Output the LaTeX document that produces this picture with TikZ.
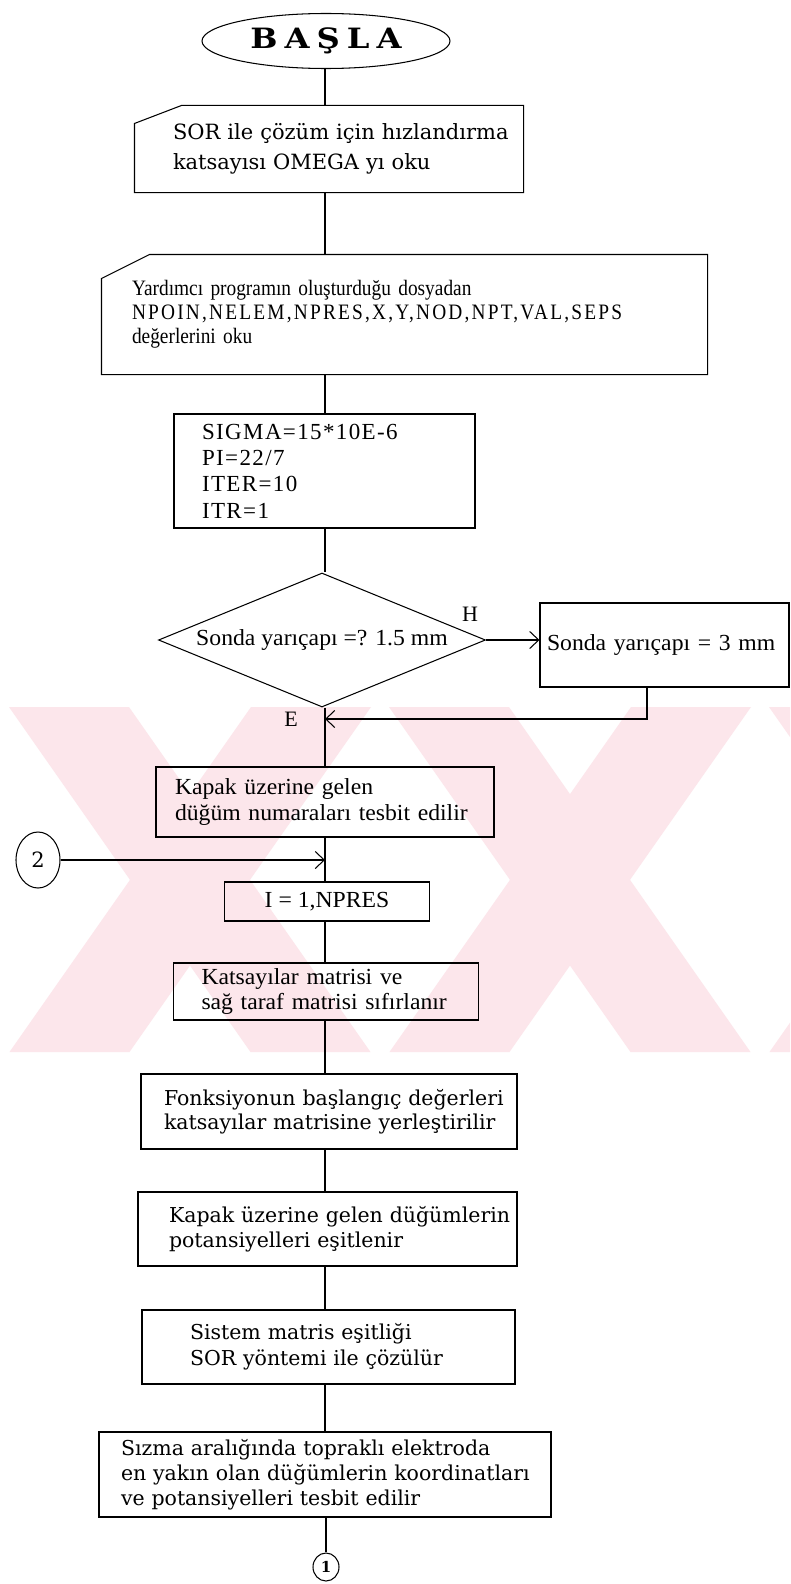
\documentclass[tikz,border=0pt]{standalone}
\usepackage{fontspec}
\setmainfont{Liberation Serif}
\newfontfamily\tms[FakeStretch=1.03]{Liberation Serif}
\newfontfamily\tmsc[FakeStretch=0.88]{Liberation Serif}
\newfontfamily\tmsn{Liberation Serif}
\newfontfamily\dvs{DejaVu Serif}
\newfontfamily\dvw[FakeStretch=1.15]{DejaVu Serif}
\usetikzlibrary{shapes.geometric,arrows.meta}
\definecolor{wmpink}{RGB}{252,230,235}
\newcommand\Lx[1]{\mbox{#1}}
\begin{document}
\begin{tikzpicture}[x=1pt,y=-1pt,line width=1.05pt,
  tbox/.style={draw,rectangle,align=left,inner ysep=0pt,font=\tms\fontsize{23}{25.5}\selectfont},
  dbox/.style={draw,rectangle,align=left,inner ysep=0pt,font=\dvs\fontsize{20.5}{24.5}\selectfont},
  inbox/.style={rectangle,align=left,inner ysep=0pt},
  arr/.style={-{Straight Barb[length=9pt,width=17pt,line width=1.05pt]}},
  lbl/.style={inner sep=0pt,font=\tmsn\fontsize{22}{22}\selectfont},
  conn/.style={draw,ellipse,inner sep=0pt},
  wm/.style={fill=wmpink,draw=none}]
\useasboundingbox (0,0) rectangle (790,1584);
\fill[white] (0,0) rectangle (790,1584);

% faint background watermark
\begin{scope}
\clip (0,707) rectangle (790,1052);
\fill[wm] (9,707) -- (129,707) -- (370.5,1052) -- (250.5,1052) -- cycle;
\fill[wm] (251,707) -- (371,707) -- (129.5,1052) -- (9.5,1052) -- cycle;
\fill[wm] (389,707) -- (509,707) -- (750.5,1052) -- (630.5,1052) -- cycle;
\fill[wm] (631,707) -- (751,707) -- (509.5,1052) -- (389.5,1052) -- cycle;
\fill[wm] (769,707) -- (889,707) -- (1130.5,1052) -- (1010.5,1052) -- cycle;
\fill[wm] (1011,707) -- (1131,707) -- (889.5,1052) -- (769.5,1052) -- cycle;
\end{scope}

\coordinate (ax) at (325,0);

% start
\node[draw,ellipse,minimum width=248pt,minimum height=55pt,inner sep=0pt,
      font=\dvw\bfseries\fontsize{28}{28}\selectfont] (start) at (326,41)
      {B\kern7pt A\kern7pt Ş\kern7pt L\kern7pt A};

% manual input 1
\node[inbox,inner xsep=38pt,text width=312pt,minimum height=86pt,
      font=\dvs\fontsize{21}{30}\selectfont] (b1) at (329,149)
      {\Lx{SOR ile çözüm için hızlandırma}\\\Lx{katsayısı OMEGA yı oku}};
\draw ([yshift=-18pt]b1.north west) -- ([xshift=47pt]b1.north west) -- (b1.north east)
      -- (b1.south east) -- (b1.south west) -- cycle;

% manual input 2
\node[inbox,inner xsep=30pt,text width=545pt,minimum height=119pt,
      font=\tmsc\fontsize{22}{23.8}\selectfont] (b2) at (404.5,314.5)
      {\Lx{Yardımcı programın oluşturduğu dosyadan}\\
       \Lx{\addfontfeature{LetterSpace=10}NPOIN,NELEM,NPRES,X,Y,NOD,NPT,VAL,SEPS}\\
       \Lx{değerlerini oku}};
\draw ([yshift=-24pt]b2.north west) -- ([xshift=48pt]b2.north west) -- (b2.north east)
      -- (b2.south east) -- (b2.south west) -- cycle;

% constants
\node[draw,inbox,inner xsep=28pt,text width=245pt,minimum height=114pt,
      font=\tmsn\fontsize{23}{26.4}\selectfont\addfontfeature{LetterSpace=6}] (b3) at (324.5,471)
      {SIGMA=15*10E-6\\PI=22/7\\ITER=10\\ITR=1};

% decision
\node[draw,diamond,aspect=2.4,minimum width=327pt,minimum height=134pt,inner sep=0pt,
      font=\tms\fontsize{23}{23}\selectfont] (dia) at (322,640) {Sonda yarıçapı =? 1.5 mm};
\node[lbl] (hl) at (470,614) {H};
\node[lbl] (el) at (291,719) {E};

\node[tbox,inner xsep=7pt,text width=235pt,minimum height=84pt] (b4) at (664.5,645)
      {\Lx{Sonda yarıçapı = 3 mm}};

\node[tbox,inner xsep=19pt,text width=300pt,minimum height=70pt,
      font=\tms\fontsize{23}{26}\selectfont] (b5) at (325,802)
      {\Lx{Kapak üzerine gelen}\\\Lx{düğüm numaraları tesbit edilir}};

\node[conn,minimum width=44pt,minimum height=56pt,font=\dvs\fontsize{21}{21}\selectfont] (c2) at (38,860) {2};

\node[draw,rectangle,inner sep=0pt,minimum width=205pt,minimum height=39pt,
      font=\tms\fontsize{23}{23}\selectfont] (b6) at (327,901.5) {I = 1,NPRES};

\node[tbox,inner xsep=28pt,text width=249pt,minimum height=57pt] (b7) at (326,991.5)
      {\Lx{Katsayılar matrisi ve}\\\Lx{sağ taraf matrisi sıfırlanır}};

\node[dbox,inner xsep=23pt,text width=330pt,minimum height=75pt] (b8) at (329,1111.5)
      {\Lx{Fonksiyonun başlangıç değerleri}\\\Lx{katsayılar matrisine yerleştirilir}};

\node[dbox,inner xsep=31pt,text width=317pt,minimum height=74pt] (b9) at (327.5,1229)
      {\Lx{Kapak üzerine gelen düğümlerin}\\\Lx{potansiyelleri eşitlenir}};

\node[dbox,inner xsep=48pt,text width=277pt,minimum height=74pt,
      font=\dvs\fontsize{20.5}{26}\selectfont] (b10) at (328.5,1347)
      {\Lx{Sistem matris eşitliği}\\\Lx{SOR yöntemi ile çözülür}};

\node[dbox,inner xsep=22pt,text width=408pt,minimum height=85pt,
      font=\dvs\fontsize{20.5}{25}\selectfont] (b11) at (325,1474.5)
      {\Lx{Sızma aralığında topraklı elektroda}\\\Lx{en yakın olan düğümlerin koordinatları}\\\Lx{ve potansiyelleri tesbit edilir}};

\node[conn,minimum width=26pt,minimum height=28pt,font=\dvs\bfseries\fontsize{15}{15}\selectfont] (c1) at (326,1567) {1};

% connectors
\draw (start.south -| ax) -- (b1.north -| ax);
\draw (b1.south -| ax) -- (b2.north -| ax);
\draw (b2.south -| ax) -- (b3.north -| ax);
\draw (b3.south -| ax) -- (dia.north -| ax);
\draw[arr] (dia.east) -- (dia.east -| b4.west);
\coordinate (rt) at (647,719);
\draw[arr] (b4.south -| rt) -- (rt) -- (rt -| ax);
\draw (dia.south -| ax) -- (b5.north -| ax);
\draw[arr] (c2.east) -- (c2.east -| ax);
\draw (b5.south -| ax) -- (b6.north -| ax);
\draw (b6.south -| ax) -- (b7.north -| ax);
\draw (b7.south -| ax) -- (b8.north -| ax);
\draw (b8.south -| ax) -- (b9.north -| ax);
\draw (b9.south -| ax) -- (b10.north -| ax);
\draw (b10.south -| ax) -- (b11.north -| ax);
\draw (b11.south -| c1.north) -- (c1.north);
\end{tikzpicture}
\end{document}
